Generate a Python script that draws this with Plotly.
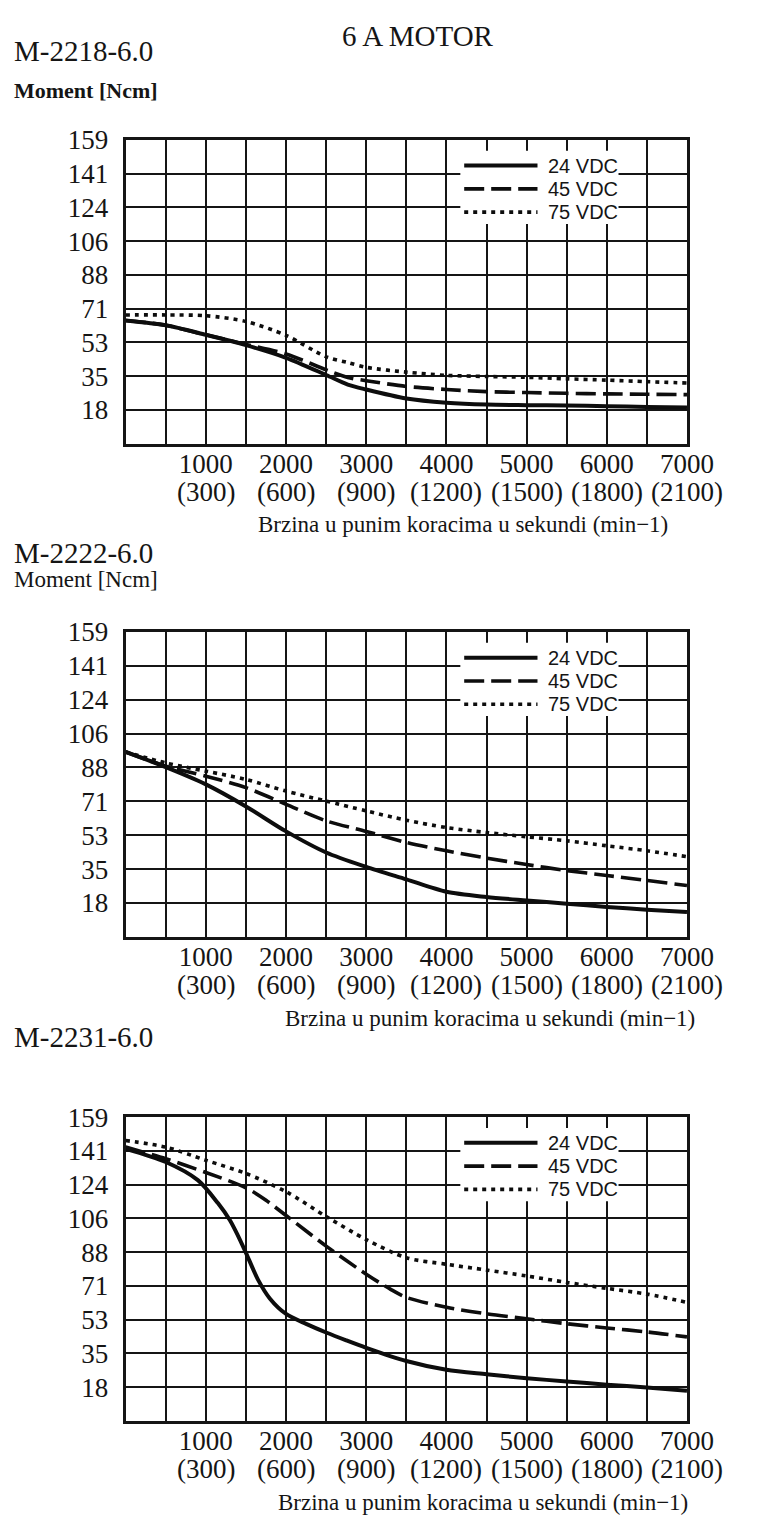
import plotly.graph_objects as go

W, H = 760, 1517

# x axis: full steps per second, second row is rpm
step_ticks = [1000, 2000, 3000, 4000, 5000, 6000, 7000]
step_labels = ["1000", "2000", "3000", "4000", "5000", "6000", "7000"]
rpm_labels = ["(300)", "(600)", "(900)", "(1200)", "(1500)", "(1800)", "(2100)"]
y_labels = ["18", "35", "53", "71", "88", "106", "124", "141", "159"]
y_max = 159
series_names = ["24 VDC", "45 VDC", "75 VDC"]

# M-2218-6.0
m2218_24_x = [0, 500, 1000, 1500, 2000, 2500, 2770, 3000, 3500, 4000, 4500, 5000, 5500, 6000, 6500, 7000]
m2218_24_y = [64.5, 62, 57, 51.6, 45, 36, 31, 28.4, 23.7, 21.5, 20.5, 20.2, 20, 19.7, 19.3, 19]
m2218_45_x = [0, 500, 1000, 1500, 2000, 2500, 2770, 3000, 3500, 4000, 4500, 5000, 5500, 6000, 6500, 7000]
m2218_45_y = [64.5, 62, 57, 52, 47, 38.7, 34.7, 33, 30, 28.4, 27.3, 26.8, 26.4, 26.1, 25.9, 25.7]
m2218_75_x = [0, 500, 1000, 1500, 2000, 2500, 2770, 3000, 3500, 4000, 4500, 5000, 5500, 6000, 6500, 7000]
m2218_75_y = [67.4, 67.4, 67, 64, 56.7, 45.5, 42.5, 40, 37.5, 35.8, 35.2, 34.8, 34, 33.3, 32.5, 31.8]

# M-2222-6.0
m2222_24_x = [0, 500, 1000, 1500, 2000, 2500, 3000, 3500, 4000, 4500, 5000, 5500, 6000, 6500, 7000]
m2222_24_y = [96.4, 88.5, 79.5, 68, 55, 44, 36.5, 30, 23.5, 20.8, 19, 17.3, 15.6, 14.2, 13]
m2222_45_x = [0, 500, 1000, 1500, 2000, 2500, 3000, 3500, 4000, 4500, 5000, 5500, 6000, 6500, 7000]
m2222_45_y = [96.4, 89, 83.8, 77.8, 69.1, 60.5, 55, 49.2, 44.9, 41.1, 37.7, 34.6, 32, 29.4, 26.8]
m2222_75_x = [0, 500, 1000, 1500, 2000, 2500, 3000, 3500, 4000, 4500, 5000, 5500, 6000, 6500, 7000]
m2222_75_y = [96.4, 90.7, 86.4, 82.1, 76, 70.8, 65.7, 60.8, 57, 54.4, 52.2, 50.1, 47.5, 44.9, 41.8]

# M-2231-6.0
m2231_24_x = [0, 500, 900, 1150, 1300, 1400, 1500, 1650, 1800, 2000, 2250, 2500, 2750, 3000, 3500, 4000, 4500, 5000, 5500, 6000, 6500, 7000]
m2231_24_y = [142.4, 135.5, 126, 114, 105, 97, 88, 74, 64, 56, 50.8, 46.3, 42.2, 38.3, 31.4, 26.8, 24.5, 22.4, 20.7, 19, 17.6, 15.9]
m2231_45_x = [0, 500, 1000, 1500, 1750, 2000, 2500, 3000, 3300, 3500, 4000, 4500, 5000, 5500, 6000, 6500, 7000]
m2231_45_y = [143.3, 137.2, 130, 122, 115.5, 107.5, 91.5, 76.8, 69, 64.7, 59.5, 56.1, 53.5, 50.9, 48.7, 46.6, 44]
m2231_75_x = [0, 500, 1000, 1500, 2000, 2500, 3000, 3500, 4000, 4500, 5000, 5500, 6000, 6500, 7000]
m2231_75_y = [146.7, 143.3, 136.4, 129.5, 120, 107, 94.9, 85.4, 82, 79, 75.9, 72.5, 69.4, 66.4, 62.1]

panels = [
    dict(name="M-2218-6.0", top=126, bottom=433, name_y=36, moment_y=76, moment_bold=True, xt_cx=480,
         curves=[(m2218_24_x, m2218_24_y), (m2218_45_x, m2218_45_y), (m2218_75_x, m2218_75_y)]),
    dict(name="M-2222-6.0", top=623, bottom=931, name_y=543, moment_y=570, moment_bold=False, xt_cx=508,
         curves=[(m2222_24_x, m2222_24_y), (m2222_45_x, m2222_45_y), (m2222_75_x, m2222_75_y)]),
    dict(name="M-2231-6.0", top=1113, bottom=1420, name_y=1032, moment_y=None, moment_bold=False, xt_cx=501,
         curves=[(m2231_24_x, m2231_24_y), (m2231_45_x, m2231_45_y), (m2231_75_x, m2231_75_y)]),
]

SERIF = "Liberation Serif, Times New Roman, serif"
SANS = "Liberation Sans, Arial, sans-serif"
INK = "#151515"
dashes = ["solid", "20px,7px", "4px,5px"]
widths = [4, 3.6, 3.6]

# page pixels -> paper coords (the page body adds an 8px margin)
def fx(px):
    return (px - 8) / W

def fy(py):
    return 1 - (py - 8) / H

fig = go.Figure()
annotations = []
shapes = []
layout = {}

annotations.append(dict(text="6 A MOTOR", x=fx(433), y=fy(21), xref="paper", yref="paper",
                        xanchor="center", yanchor="middle", showarrow=False,
                        font=dict(family=SERIF, size=29, color=INK)))

for i, p in enumerate(panels):
    sfx = "" if i == 0 else str(i + 1)
    xa, ya = "x" + sfx, "y" + sfx
    for (xs, ys), nm, dsh, wd in zip(p["curves"], series_names, dashes, widths):
        fig.add_trace(go.Scatter(
            x=xs, y=ys, name=nm, mode="lines", xaxis=xa, yaxis=ya, showlegend=False,
            line=dict(color="#0d0d0d", width=wd, dash=dsh, shape="spline", smoothing=0.8),
            hoverinfo="skip"))

    layout["xaxis" + sfx] = dict(
        domain=[fx(130), fx(712)], anchor=ya, range=[0, 7000],
        tickmode="array", tickvals=step_ticks, ticktext=step_labels,
        showgrid=True, gridcolor=INK, gridwidth=2,
        minor=dict(tickmode="linear", tick0=0, dtick=500, showgrid=True, gridcolor=INK, gridwidth=2),
        showline=True, linecolor=INK, linewidth=3, mirror=True, zeroline=False,
        ticks="", ticklabelstandoff=-6,
        tickfont=dict(family=SERIF, size=27, color=INK), fixedrange=True)
    layout["yaxis" + sfx] = dict(
        domain=[fy(p["bottom"]), fy(p["top"])], anchor=xa, range=[0, y_max],
        tickmode="array", tickvals=[y_max * (k + 1) / len(y_labels) for k in range(len(y_labels))],
        ticktext=y_labels,
        showgrid=True, gridcolor=INK, gridwidth=2,
        showline=True, linecolor=INK, linewidth=3, mirror=True, zeroline=False,
        ticks="", ticklabelstandoff=9,
        tickfont=dict(family=SERIF, size=27, color=INK), fixedrange=True)

    # legend box drawn over the grid, like the printed sheet
    t = p["top"]
    shapes.append(dict(type="rect", xref="paper", yref="paper", layer="above",
                       x0=fx(477), x1=fx(641), y0=fy(t + 85), y1=fy(t + 11),
                       fillcolor="white", line=dict(width=0)))
    for k, (nm, dsh, wd) in enumerate(zip(series_names, dashes, widths)):
        ry = t + 26 + 23.5 * k
        shapes.append(dict(type="line", xref="paper", yref="paper", layer="above",
                           x0=fx(481), x1=fx(557), y0=fy(ry), y1=fy(ry),
                           line=dict(color="#0d0d0d", width=wd, dash=dsh)))
        annotations.append(dict(text=nm, x=fx(566), y=fy(ry), xref="paper", yref="paper",
                                xanchor="left", yanchor="middle", showarrow=False,
                                font=dict(family=SANS, size=20, color=INK)))

    # second row of tick labels (rpm)
    for xv, lab in zip(step_ticks, rpm_labels):
        annotations.append(dict(text=lab, x=xv, y=0, xref=xa, yref=ya + " domain",
                                xanchor="center", yanchor="middle", yshift=-48, showarrow=False,
                                font=dict(family=SERIF, size=27, color=INK)))
    annotations.append(dict(text="Brzina u punim koracima u sekundi (min\u22121)",
                            x=fx(p["xt_cx"]), y=fy(p["bottom"] + 82), xref="paper", yref="paper",
                            xanchor="center", yanchor="middle", showarrow=False,
                            font=dict(family=SERIF, size=23, color=INK)))
    annotations.append(dict(text=p["name"], x=fx(12), y=fy(p["name_y"]), xref="paper", yref="paper",
                            xanchor="left", yanchor="middle", showarrow=False,
                            font=dict(family=SERIF, size=29, color=INK)))
    if p["moment_y"] is not None:
        txt = "<b>Moment [Ncm]</b>" if p["moment_bold"] else "Moment [Ncm]"
        annotations.append(dict(text=txt, x=fx(12), y=fy(p["moment_y"]), xref="paper", yref="paper",
                                xanchor="left", yanchor="middle", showarrow=False,
                                font=dict(family=SERIF, size=22 if p["moment_bold"] else 23, color=INK)))

fig.update_layout(
    width=W, height=H, margin=dict(l=0, r=0, t=0, b=0),
    paper_bgcolor="white", plot_bgcolor="white",
    showlegend=False, annotations=annotations, shapes=shapes, **layout)

fig.write_html("out.html")
